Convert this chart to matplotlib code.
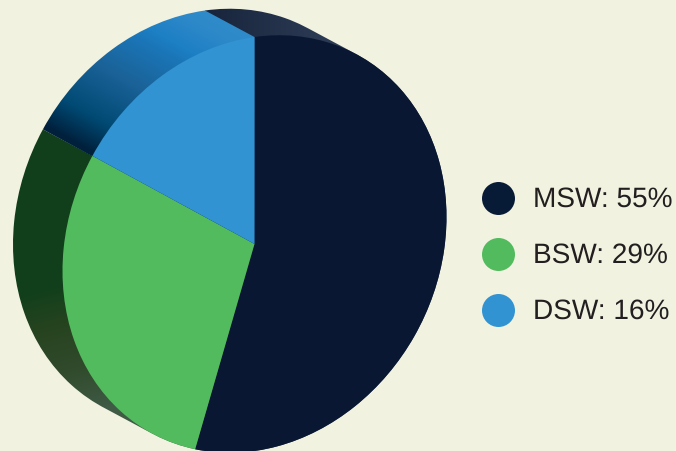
import numpy as np
import matplotlib
matplotlib.use('Agg')
import matplotlib.pyplot as plt
from matplotlib.colors import LinearSegmentedColormap
from matplotlib.path import Path
from matplotlib.transforms import Affine2D

categories = ['MSW', 'BSW', 'DSW']
values = [55, 29, 16]

bg = '#f1f2e0'
colors = ['#0a1733', '#52bb5d', '#3193d2']
legend_colors = ['#071a36', '#52bb5d', '#3193d2']
legend_y = [199.5, 255.5, 311.5]

plt.rcParams['font.family'] = ['Liberation Sans', 'DejaVu Sans']
plt.rcParams['text.hinting'] = 'no_hinting'

fig = plt.figure(figsize=(6.76, 4.52), dpi=100, facecolor=bg)
ax = fig.add_axes([0, 0, 1, 1])

wedges, _ = ax.pie(values, colors=colors, startangle=90, counterclock=False,
                   wedgeprops={'linewidth': 0, 'zorder': 5})

# axes are in image pixels from here on
ax.set_aspect('auto')
ax.set_xlim(0, 676)
ax.set_ylim(452, 0)
ax.axis('off')

# the disc is a slanted ellipse, the back face is the same disc moved up-left
front = Affine2D.from_values(192, -27, 0, -207, 254.5, 245)
back = front + Affine2D().translate(-49.5, -26.5)


def hull(points):
    pts = sorted(set(map(tuple, np.round(points, 3))))

    def half(seq):
        out = []
        for p in seq:
            while len(out) > 1 and np.cross(np.subtract(out[-1], out[-2]), np.subtract(p, out[-2])) <= 0:
                out.pop()
            out.append(p)
        return out[:-1]

    return np.array(half(pts) + half(pts[::-1]))


yy, xx = np.mgrid[0:452, 0:676] + 0.5

# side wall gradients: one ramp for each slice
ramps = [
    ((xx - 205) / 140, [(0, '#17243c'), (1, '#2f3e57')]),
    ((yy - 230 + 0.25 * (xx - 60)) / 190, [(0, '#113f1b'), (0.3, '#123f1b'), (0.5, '#26431f'),
                                           (0.75, '#304a2b'), (1, '#3f5a45')]),
    ((27 * xx - 49 * yy) / 56 + 90, None),
]
blue_stops = [(0, '#00203c'), (32 / 180, '#014a74'), (82 / 180, '#1b6399'), (123 / 180, '#1a76b8'),
              (136 / 180, '#1d7fc4'), (165 / 180, '#2e89c9'), (1, '#2f8bca')]

for i, wedge in enumerate(wedges):
    shape = wedge.get_path()
    corners = np.vstack(shape.to_polygons(front, closed_only=False) + shape.to_polygons(back, closed_only=False))
    outline = Path(np.vstack([hull(corners), hull(corners)[:1]]), closed=True)
    ramp, stops = ramps[i]
    if stops is None:
        ramp, stops = ramp / 180, blue_stops
    cmap = LinearSegmentedColormap.from_list('wall', stops)
    im = ax.imshow(np.clip(ramp, 0, 1), extent=(0, 676, 452, 0), cmap=cmap, vmin=0, vmax=1,
                   aspect='auto', zorder=2 + i * 0.1, interpolation='bilinear')
    im.set_clip_path(outline, ax.transData)
    wedge.set_transform(front + ax.transData)

ax.set_xlim(0, 676)
ax.set_ylim(452, 0)

ax.scatter([498.5] * 3, legend_y, s=564, c=legend_colors, linewidths=0, zorder=6)
for cat, val, y in zip(categories, values, legend_y):
    ax.text(533, y, f'{cat}: {val}%', fontsize=20.2, color='#231f20', va='center', ha='left', zorder=6)

fig.savefig('out.png', dpi=100, facecolor=bg)
